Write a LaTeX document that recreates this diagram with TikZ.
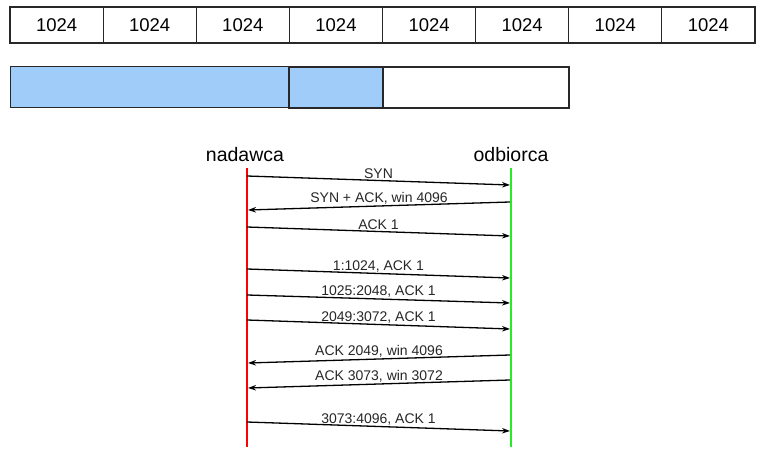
\documentclass[tikz,border=0pt]{standalone}
\usepackage{fontspec}
\setmainfont{Liberation Sans}
\usetikzlibrary{arrows.meta}
\definecolor{okno}{RGB}{160,204,250}
\definecolor{ramka}{RGB}{40,40,40}
\definecolor{zielony}{RGB}{40,235,40}
\tikzset{
  cell/.style={draw=ramka, line width=1.2pt, minimum width=93.1pt, minimum height=36pt,
    inner sep=0pt, font=\fontsize{18.5}{19}\selectfont},
  msg/.style={line width=1.3pt, -{Stealth[length=8pt,width=5.5pt]}},
  lbl/.style={above, inner sep=1pt, font=\fontsize{14}{15}\selectfont, text=black!85},
  who/.style={font=\fontsize{19.5}{20}\selectfont}
}
\begin{document}
\begin{tikzpicture}[x=1pt,y=-1pt]
  \useasboundingbox (0,0) rectangle (764,454);
  % segmenty po 1024 bajty
  \node[cell] (c1) at ( 56.6,25) {1024};
  \node[cell] (c2) at (149.7,25) {1024};
  \node[cell] (c3) at (242.8,25) {1024};
  \node[cell] (c4) at (336.0,25) {1024};
  \node[cell] (c5) at (429.1,25) {1024};
  \node[cell] (c6) at (522.2,25) {1024};
  \node[cell] (c7) at (615.3,25) {1024};
  \node[cell] (c8) at (708.4,25) {1024};
  % okno
  \filldraw[fill=okno, draw=ramka, line width=1pt] (10,67) rectangle (383,108);
  \draw[ramka, line width=1.5pt] (289,67) rectangle (383,108);
  \draw[ramka, line width=1.2pt] (383,67) rectangle (569,108);
  % strony
  \node[who] (nad) at (245,155) {nadawca};
  \node[who] (odb) at (511,155) {odbiorca};
  \coordinate (nadtop) at (247,168);
  \coordinate (nadbot) at (247,447);
  \coordinate (odbtop) at (511,168);
  \coordinate (odbbot) at (511,447);
  \draw[red, line width=2.2pt] (nadtop) -- (nadbot);
  \draw[zielony, line width=2.2pt] (odbtop) -- (odbbot);
  % wiadomosci
  \coordinate (n1) at (247,176); \coordinate (o1) at (510,185);
  \draw[msg] (n1) -- node[lbl] {SYN} (o1);
  \coordinate (o2) at (510,202); \coordinate (n2) at (248,210);
  \draw[msg] (o2) -- node[lbl] {SYN + ACK, win 4096} (n2);
  \coordinate (n3) at (247,227); \coordinate (o3) at (510,236);
  \draw[msg] (n3) -- node[lbl] {ACK 1} (o3);
  \coordinate (n4) at (247,269); \coordinate (o4) at (510,278);
  \draw[msg] (n4) -- node[lbl] {1:1024, ACK 1} (o4);
  \coordinate (n5) at (247,295); \coordinate (o5) at (510,303);
  \draw[msg] (n5) -- node[lbl] {1025:2048, ACK 1} (o5);
  \coordinate (n6) at (247,320); \coordinate (o6) at (510,329);
  \draw[msg] (n6) -- node[lbl] {2049:3072, ACK 1} (o6);
  \coordinate (o7) at (510,355); \coordinate (n7) at (248,363);
  \draw[msg] (o7) -- node[lbl] {ACK 2049, win 4096} (n7);
  \coordinate (o8) at (510,380); \coordinate (n8) at (248,388);
  \draw[msg] (o8) -- node[lbl] {ACK 3073, win 3072} (n8);
  \coordinate (n9) at (247,422); \coordinate (o9) at (510,431);
  \draw[msg] (n9) -- node[lbl] {3073:4096, ACK 1} (o9);
\end{tikzpicture}
\end{document}
